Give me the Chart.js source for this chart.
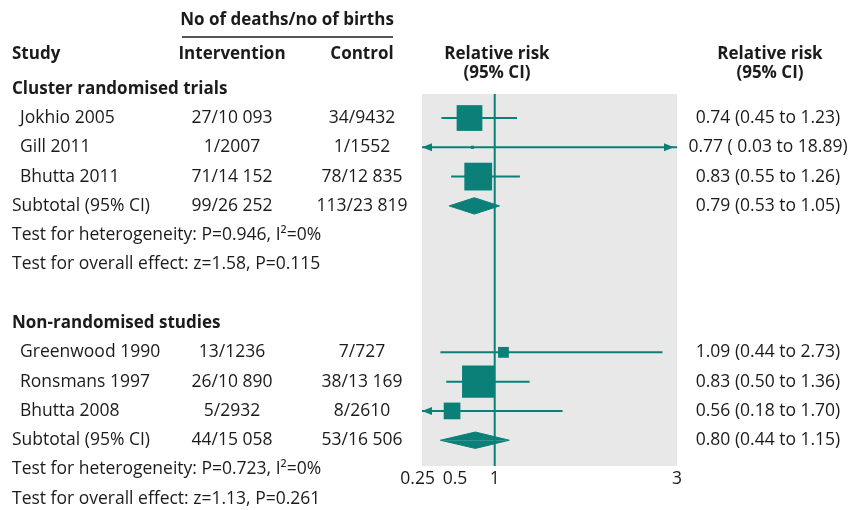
<!DOCTYPE html>
<html lang="en">
<head>
  <meta charset="UTF-8" />
  <title>Forest plot - relative risk of death</title>
  <script src="https://cdn.jsdelivr.net/npm/chart.js"></script>
  <style>
    body {
      margin: 0;
      background: #fff;
    }
    .chart-container {
      position: relative;
      width: 856px;
      height: 510px;
    }
  </style>
</head>
<body>
  <div class="chart-container">
    <canvas id="forest"></canvas>
  </div>

  <script>
    // individual studies (row = position down the table)
    const studies = ['Jokhio 2005', 'Gill 2011', 'Bhutta 2011', 'Greenwood 1990', 'Ronsmans 1997', 'Bhutta 2008'];
    const studyRows = [0, 1, 2, 8, 9, 10];
    const intervention = ['27/10 093', '1/2007', '71/14 152', '13/1236', '26/10 890', '5/2932'];
    const control = ['34/9432', '1/1552', '78/12 835', '7/727', '38/13 169', '8/2610'];
    const rr = [0.74, 0.77, 0.83, 1.09, 0.83, 0.56];
    const rrLow = [0.45, 0.03, 0.55, 0.44, 0.50, 0.18];
    const rrHigh = [1.23, 18.89, 1.26, 2.73, 1.36, 1.70];
    const weights = [45.9, 0.7, 53.4, 8.1, 72.6, 19.3];
    const rrText = ['0.74 (0.45 to 1.23)', '0.77 ( 0.03 to 18.89)', '0.83 (0.55 to 1.26)',
                    '1.09 (0.44 to 2.73)', '0.83 (0.50 to 1.36)', '0.56 (0.18 to 1.70)'];

    // subgroups
    const groups = ['Cluster randomised trials', 'Non-randomised studies'];
    const groupRows = [-1, 7];
    const subRows = [3, 11];
    const subIntervention = ['99/26 252', '44/15 058'];
    const subControl = ['113/23 819', '53/16 506'];
    const subRR = [0.79, 0.80];
    const subLow = [0.53, 0.44];
    const subHigh = [1.05, 1.15];
    const subText = ['0.79 (0.53 to 1.05)', '0.80 (0.44 to 1.15)'];
    const hetP = ['0.946', '0.723'];
    const hetI2 = ['0%', '0%'];
    const overallZ = ['1.58', '1.13'];
    const overallP = ['0.115', '0.261'];

    // x axis
    const tickValues = [0.25, 0.5, 1, 3];
    const tickLabels = ['0.25', '0.5', '1', '3'];
    const xMin = 0.25, xMax = 2.88;
    const yMin = -0.82, yMax = 11.88;

    const teal = '#0a8078';
    const ink = '#1b1b1b';
    const FONT = '"Open Sans", sans-serif';
    const SIZE = 17.5;
    const BOLD_SIZE = 17;
    const diamondHalf = 0.28;

    const datasets = [];

    // line of no effect
    datasets.push({
      type: 'line',
      data: [{ x: 1, y: yMin }, { x: 1, y: yMax }],
      borderColor: teal, borderWidth: 2, pointRadius: 0
    });

    // confidence intervals
    studies.forEach((s, i) => {
      datasets.push({
        type: 'line',
        data: [{ x: rrLow[i], y: studyRows[i] }, { x: rrHigh[i], y: studyRows[i] }],
        borderColor: teal, borderWidth: 2, pointRadius: 0
      });
    });

    // squares sized by weight
    datasets.push({
      type: 'scatter',
      data: studies.map((s, i) => ({ x: rr[i], y: studyRows[i] })),
      pointStyle: 'rect',
      pointRadius: ctx => 3.8 * Math.sqrt(weights[ctx.dataIndex]) / Math.SQRT2,
      backgroundColor: teal,
      borderColor: teal,
      borderWidth: 0
    });

    // subtotal diamonds (top and bottom halves)
    subRows.forEach((row, i) => {
      [-1, 1].forEach(sign => {
        datasets.push({
          type: 'line',
          data: [{ x: subLow[i], y: row }, { x: subRR[i], y: row + sign * diamondHalf }, { x: subHigh[i], y: row }],
          borderColor: teal, borderWidth: 1, pointRadius: 0,
          backgroundColor: teal,
          fill: { value: row },
          tension: 0
        });
      });
    });

    const backdrop = {
      id: 'backdrop',
      beforeDraw(chart) {
        const { ctx, chartArea: a } = chart;
        ctx.save();
        ctx.fillStyle = '#e8e8e8';
        ctx.fillRect(a.left, a.top, a.right - a.left, a.bottom - a.top);
        ctx.restore();
      }
    };

    const arrows = {
      id: 'arrows',
      afterDatasetsDraw(chart) {
        const { ctx, chartArea: a } = chart;
        const y = chart.scales.y;
        ctx.save();
        ctx.fillStyle = teal;
        studies.forEach((s, i) => {
          const py = y.getPixelForValue(studyRows[i]);
          if (rrLow[i] < xMin) {
            ctx.beginPath();
            ctx.moveTo(a.left, py);
            ctx.lineTo(a.left + 10, py - 4);
            ctx.lineTo(a.left + 10, py + 4);
            ctx.fill();
          }
          if (rrHigh[i] > xMax) {
            ctx.beginPath();
            ctx.moveTo(a.right - 3, py);
            ctx.lineTo(a.right - 13, py - 4);
            ctx.lineTo(a.right - 13, py + 4);
            ctx.fill();
          }
        });
        ctx.restore();
      }
    };

    const table = {
      id: 'table',
      afterDraw(chart) {
        const ctx = chart.ctx;
        const y = chart.scales.y;
        const yp = v => y.getPixelForValue(v);
        const text = (t, x, row, align, bold) => {
          ctx.font = bold ? 'bold ' + BOLD_SIZE + 'px ' + FONT : SIZE + 'px ' + FONT;
          ctx.textAlign = align;
          ctx.fillText(t, x, yp(row));
        };
        ctx.save();
        ctx.fillStyle = ink;
        ctx.textBaseline = 'middle';

        // headers
        text('No of deaths/no of births', 287, -3.35, 'center', true);
        ctx.strokeStyle = ink;
        ctx.lineWidth = 1.5;
        ctx.beginPath();
        ctx.moveTo(182, yp(-2.77));
        ctx.lineTo(393, yp(-2.77));
        ctx.stroke();
        text('Study', 12, -2.18, 'left', true);
        text('Intervention', 232, -2.18, 'center', true);
        text('Control', 362, -2.18, 'center', true);
        text('Relative risk', 497, -2.18, 'center', true);
        text('(95% CI)', 497, -1.54, 'center', true);
        text('Relative risk', 770, -2.18, 'center', true);
        text('(95% CI)', 770, -1.54, 'center', true);

        groups.forEach((g, i) => text(g, 12, groupRows[i], 'left', true));

        studies.forEach((s, i) => {
          text(s, 20, studyRows[i], 'left');
          text(intervention[i], 232, studyRows[i], 'center');
          text(control[i], 362, studyRows[i], 'center');
          text(rrText[i], 768, studyRows[i], 'center');
        });

        subRows.forEach((row, i) => {
          text('Subtotal (95% CI)', 12, row, 'left');
          text(subIntervention[i], 232, row, 'center');
          text(subControl[i], 362, row, 'center');
          text(subText[i], 768, row, 'center');
          text('Test for heterogeneity: P=' + hetP[i] + ', I\u00b2=' + hetI2[i], 12, row + 1, 'left');
          text('Test for overall effect: z=' + overallZ[i] + ', P=' + overallP[i], 12, row + 2, 'left');
        });
        ctx.restore();
      }
    };

    new Chart(document.getElementById('forest').getContext('2d'), {
      data: { datasets: datasets },
      options: {
        responsive: true,
        maintainAspectRatio: false,
        animation: false,
        events: [],
        layout: { padding: { left: 422, right: 179, top: 94, bottom: 20 } },
        scales: {
          x: {
            type: 'linear',
            min: xMin,
            max: xMax,
            afterBuildTicks: s => { s.ticks = tickValues.map(v => ({ value: Math.min(v, xMax) })); },
            afterFit: s => { s.height = 24; },
            grid: { display: false, drawTicks: false },
            border: { display: false },
            ticks: {
              autoSkip: false,
              maxRotation: 0,
              padding: 3,
              color: ink,
              font: { family: FONT, size: SIZE },
              // nudge the two crowded labels apart, as in the printed figure
              callback: (v, i) => i === 0 ? tickLabels[i] + '\u2002' : i === 1 ? '\u2003' + tickLabels[i] : tickLabels[i]
            }
          },
          y: {
            type: 'linear',
            display: false,
            reverse: true,
            min: yMin,
            max: yMax
          }
        },
        plugins: {
          legend: { display: false },
          tooltip: { enabled: false }
        }
      },
      plugins: [backdrop, arrows, table]
    });
  </script>
</body>
</html>
